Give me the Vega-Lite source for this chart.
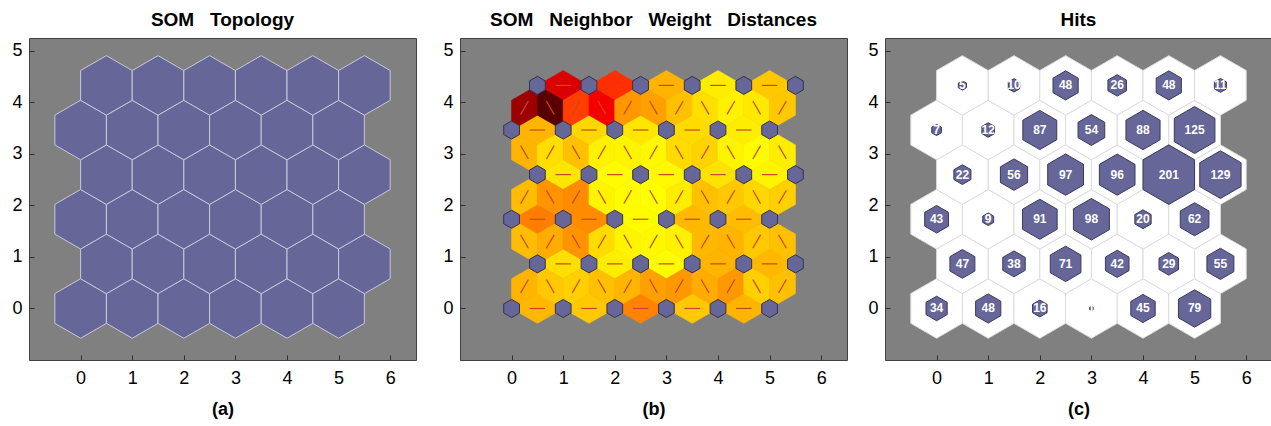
{
  "$schema": "https://vega.github.io/schema/vega-lite/v6.json",
  "background": "white",
  "padding": {"left": 11, "top": 10, "right": 0, "bottom": 0},
  "config": {
    "view": {"fill": "#808080", "stroke": "#404040", "strokeWidth": 1},
    "axis": {"labelFont": "Liberation Sans", "labelFontSize": 18, "labelColor": "#000", "domain": false, "grid": false, "ticks": true, "tickSize": -5, "tickColor": "#303030", "titleFont": "Liberation Sans", "titleFontSize": 18, "titleFontWeight": "bold", "titleColor": "#000", "format": "d"},
    "axisX": {"labelPadding": 14, "titlePadding": 13},
    "axisY": {"labelPadding": 12},
    "title": {"font": "Liberation Sans", "fontSize": 19, "fontWeight": "bold", "color": "#000", "offset": 8}
  },
  "datasets": {
    "neurons": [
      {"x":0,"y":0,"hits":34},{"x":1,"y":0,"hits":48},{"x":2,"y":0,"hits":16},{"x":3,"y":0,"hits":1},{"x":4,"y":0,"hits":45},{"x":5,"y":0,"hits":79},
      {"x":0.5,"y":0.866,"hits":47},{"x":1.5,"y":0.866,"hits":38},{"x":2.5,"y":0.866,"hits":71},{"x":3.5,"y":0.866,"hits":42},{"x":4.5,"y":0.866,"hits":29},{"x":5.5,"y":0.866,"hits":55},
      {"x":0,"y":1.732,"hits":43},{"x":1,"y":1.732,"hits":9},{"x":2,"y":1.732,"hits":91},{"x":3,"y":1.732,"hits":98},{"x":4,"y":1.732,"hits":20},{"x":5,"y":1.732,"hits":62},
      {"x":0.5,"y":2.598,"hits":22},{"x":1.5,"y":2.598,"hits":56},{"x":2.5,"y":2.598,"hits":97},{"x":3.5,"y":2.598,"hits":96},{"x":4.5,"y":2.598,"hits":201},{"x":5.5,"y":2.598,"hits":129},
      {"x":0,"y":3.464,"hits":7},{"x":1,"y":3.464,"hits":12},{"x":2,"y":3.464,"hits":87},{"x":3,"y":3.464,"hits":54},{"x":4,"y":3.464,"hits":88},{"x":5,"y":3.464,"hits":125},
      {"x":0.5,"y":4.33,"hits":5},{"x":1.5,"y":4.33,"hits":10},{"x":2.5,"y":4.33,"hits":48},{"x":3.5,"y":4.33,"hits":26},{"x":4.5,"y":4.33,"hits":48},{"x":5.5,"y":4.33,"hits":11}
    ],
    "edges": [
      {"x":0.5,"y":0,"angle":0,"d":0.19},{"x":1.5,"y":0,"angle":0,"d":0.15},{"x":2.5,"y":0,"angle":0,"d":0.32},{"x":3.5,"y":0,"angle":0,"d":0.15},{"x":4.5,"y":0,"angle":0,"d":0.2},
      {"x":1,"y":0.866,"angle":0,"d":0.09},{"x":2,"y":0.866,"angle":0,"d":0.05},{"x":3,"y":0.866,"angle":0,"d":0.01},{"x":4,"y":0.866,"angle":0,"d":0.2},{"x":5,"y":0.866,"angle":0,"d":0.19},
      {"x":0.5,"y":1.732,"angle":0,"d":0.33},{"x":1.5,"y":1.732,"angle":0,"d":0.3},{"x":2.5,"y":1.732,"angle":0,"d":0.01},{"x":3.5,"y":1.732,"angle":0,"d":0.19},{"x":4.5,"y":1.732,"angle":0,"d":0.18},
      {"x":1,"y":2.598,"angle":0,"d":0.07},{"x":2,"y":2.598,"angle":0,"d":0.01},{"x":3,"y":2.598,"angle":0,"d":0.02},{"x":4,"y":2.598,"angle":0,"d":0.08},{"x":5,"y":2.598,"angle":0,"d":0.03},
      {"x":0.5,"y":3.464,"angle":0,"d":0.2},{"x":1.5,"y":3.464,"angle":0,"d":0.11},{"x":2.5,"y":3.464,"angle":0,"d":0.07},{"x":3.5,"y":3.464,"angle":0,"d":0.1},{"x":4.5,"y":3.464,"angle":0,"d":0.05},
      {"x":1,"y":4.33,"angle":0,"d":0.6},{"x":2,"y":4.33,"angle":0,"d":0.47},{"x":3,"y":4.33,"angle":0,"d":0.2},{"x":4,"y":4.33,"angle":0,"d":0.05},{"x":5,"y":4.33,"angle":0,"d":0.15},
      {"x":0.25,"y":0.433,"angle":-60,"d":0.2},{"x":0.75,"y":0.433,"angle":60,"d":0.15},{"x":1.25,"y":0.433,"angle":-60,"d":0.13},{"x":1.75,"y":0.433,"angle":60,"d":0.17},{"x":2.25,"y":0.433,"angle":-60,"d":0.2},{"x":2.75,"y":0.433,"angle":60,"d":0.25},{"x":3.25,"y":0.433,"angle":-60,"d":0.27},{"x":3.75,"y":0.433,"angle":60,"d":0.22},{"x":4.25,"y":0.433,"angle":-60,"d":0.27},{"x":4.75,"y":0.433,"angle":60,"d":0.13},{"x":5.25,"y":0.433,"angle":-60,"d":0.17},
      {"x":0.25,"y":1.299,"angle":60,"d":0.18},{"x":0.75,"y":1.299,"angle":-60,"d":0.22},{"x":1.25,"y":1.299,"angle":60,"d":0.28},{"x":1.75,"y":1.299,"angle":-60,"d":0.1},{"x":2.25,"y":1.299,"angle":60,"d":0.03},{"x":2.75,"y":1.299,"angle":-60,"d":0.02},{"x":3.25,"y":1.299,"angle":60,"d":0.04},{"x":3.75,"y":1.299,"angle":-60,"d":0.19},{"x":4.25,"y":1.299,"angle":60,"d":0.2},{"x":4.75,"y":1.299,"angle":-60,"d":0.15},{"x":5.25,"y":1.299,"angle":60,"d":0.17},
      {"x":0.25,"y":2.165,"angle":-60,"d":0.18},{"x":0.75,"y":2.165,"angle":60,"d":0.28},{"x":1.25,"y":2.165,"angle":-60,"d":0.3},{"x":1.75,"y":2.165,"angle":60,"d":0.03},{"x":2.25,"y":2.165,"angle":-60,"d":0.01},{"x":2.75,"y":2.165,"angle":60,"d":0},{"x":3.25,"y":2.165,"angle":-60,"d":0.05},{"x":3.75,"y":2.165,"angle":60,"d":0.17},{"x":4.25,"y":2.165,"angle":-60,"d":0.15},{"x":4.75,"y":2.165,"angle":60,"d":0.11},{"x":5.25,"y":2.165,"angle":-60,"d":0.13},
      {"x":0.25,"y":3.031,"angle":60,"d":0.2},{"x":0.75,"y":3.031,"angle":-60,"d":0.09},{"x":1.25,"y":3.031,"angle":60,"d":0.17},{"x":1.75,"y":3.031,"angle":-60,"d":0.04},{"x":2.25,"y":3.031,"angle":60,"d":0.03},{"x":2.75,"y":3.031,"angle":-60,"d":0.02},{"x":3.25,"y":3.031,"angle":60,"d":0.1},{"x":3.75,"y":3.031,"angle":-60,"d":0.12},{"x":4.25,"y":3.031,"angle":60,"d":0.03},{"x":4.75,"y":3.031,"angle":-60,"d":0.01},{"x":5.25,"y":3.031,"angle":60,"d":0.05},
      {"x":0.25,"y":3.897,"angle":-60,"d":0.78},{"x":0.75,"y":3.897,"angle":60,"d":1.0},{"x":1.25,"y":3.897,"angle":-60,"d":0.45},{"x":1.75,"y":3.897,"angle":60,"d":0.53},{"x":2.25,"y":3.897,"angle":-60,"d":0.27},{"x":2.75,"y":3.897,"angle":60,"d":0.25},{"x":3.25,"y":3.897,"angle":-60,"d":0.17},{"x":3.75,"y":3.897,"angle":60,"d":0.09},{"x":4.25,"y":3.897,"angle":-60,"d":0.04},{"x":4.75,"y":3.897,"angle":60,"d":0.06},{"x":5.25,"y":3.897,"angle":-60,"d":0.15}
    ]
  },
  "spacing": 19,
  "hconcat": [
    {
      "spacing": 25,
      "hconcat": [
        {
          "width": 387, "height": 322,
          "title": "SOM\u00a0\u00a0\u00a0Topology",
          "data": {"name": "neurons"},
          "mark": {"type": "point", "shape": "M0,-1L0.866,-0.5L0.866,0.5L0,1L-0.866,0.5L-0.866,-0.5Z", "filled": true, "fill": "#666699", "stroke": "#c8c8dc", "strokeWidth": 1, "opacity": 1, "size": 3544},
          "encoding": {
            "x": {"field": "x", "type": "quantitative", "scale": {"domain": [-1, 6.5], "nice": false, "zero": false}, "axis": {"values": [0,1,2,3,4,5,6], "title": "(a)"}},
            "y": {"field": "y", "type": "quantitative", "scale": {"domain": [-1, 5.25], "nice": false, "zero": false}, "axis": {"values": [0,1,2,3,4,5], "title": null}}
          }
        },
        {
          "width": 387, "height": 322,
          "title": "SOM\u00a0\u00a0\u00a0Neighbor\u00a0\u00a0\u00a0Weight\u00a0\u00a0\u00a0Distances",
          "layer": [
            {
              "data": {"name": "edges"},
              "mark": {"type": "point", "shape": "M-1,0L0,-0.5774L1,0L0,0.5774Z", "filled": true, "opacity": 1, "strokeWidth": 0.6, "size": 2657},
              "encoding": {
                "x": {"field": "x", "type": "quantitative", "scale": {"domain": [-1, 6.5], "nice": false, "zero": false}, "axis": {"values": [0,1,2,3,4,5,6], "title": "(b)"}},
                "y": {"field": "y", "type": "quantitative", "scale": {"domain": [-1, 5.25], "nice": false, "zero": false}, "axis": {"values": [0,1,2,3,4,5], "title": null}},
                "angle": {"field": "angle", "type": "quantitative", "scale": null},
                "fill": {"field": "d", "type": "quantitative", "scale": {"domain": [0, 0.5, 1], "range": ["#ffff00", "#ff0000", "#000000"]}, "legend": null},
                "stroke": {"field": "d", "type": "quantitative", "scale": {"domain": [0, 0.5, 1], "range": ["#ffff00", "#ff0000", "#000000"]}, "legend": null}
              }
            },
            {
              "data": {"name": "edges"},
              "mark": {"type": "point", "shape": "M-1,0L1,0", "filled": false, "opacity": 1, "stroke": "#c8481a", "strokeWidth": 1.2, "size": 239},
              "encoding": {
                "x": {"field": "x", "type": "quantitative"},
                "y": {"field": "y", "type": "quantitative"},
                "angle": {"field": "angle", "type": "quantitative", "scale": null}
              }
            },
            {
              "data": {"name": "neurons"},
              "mark": {"type": "point", "shape": "M0,-1L0.866,-0.5L0.866,0.5L0,1L-0.866,0.5L-0.866,-0.5Z", "filled": true, "fill": "#666699", "stroke": "#33334d", "strokeWidth": 1, "opacity": 1, "size": 330},
              "encoding": {
                "x": {"field": "x", "type": "quantitative"},
                "y": {"field": "y", "type": "quantitative"}
              }
            }
          ]
        }
      ]
    },
    {
      "width": 387, "height": 322,
      "title": "Hits",
      "data": {"name": "neurons"},
      "layer": [
        {
          "mark": {"type": "point", "shape": "M0,-1L0.866,-0.5L0.866,0.5L0,1L-0.866,0.5L-0.866,-0.5Z", "filled": true, "fill": "#ffffff", "stroke": "#dddddd", "strokeWidth": 1, "opacity": 1, "size": 3544},
          "encoding": {
            "x": {"field": "x", "type": "quantitative", "scale": {"domain": [-1, 6.5], "nice": false, "zero": false}, "axis": {"values": [0,1,2,3,4,5,6], "title": "(c)"}},
            "y": {"field": "y", "type": "quantitative", "scale": {"domain": [-1, 5.25], "nice": false, "zero": false}, "axis": {"values": [0,1,2,3,4,5], "title": null}}
          }
        },
        {
          "mark": {"type": "point", "shape": "M0,-1L0.866,-0.5L0.866,0.5L0,1L-0.866,0.5L-0.866,-0.5Z", "filled": true, "fill": "#666699", "stroke": "#3a3a5c", "strokeWidth": 1, "opacity": 1},
          "encoding": {
            "x": {"field": "x", "type": "quantitative"},
            "y": {"field": "y", "type": "quantitative"},
            "size": {"field": "hits", "type": "quantitative", "scale": {"domain": [0, 201], "range": [0, 3544]}, "legend": null}
          }
        },
        {
          "mark": {"type": "text", "font": "Liberation Sans", "fontSize": 12, "fontWeight": "bold", "color": "#ffffff", "align": "center", "baseline": "middle"},
          "encoding": {
            "x": {"field": "x", "type": "quantitative"},
            "y": {"field": "y", "type": "quantitative"},
            "text": {"field": "hits", "type": "quantitative"}
          }
        }
      ]
    }
  ]
}
